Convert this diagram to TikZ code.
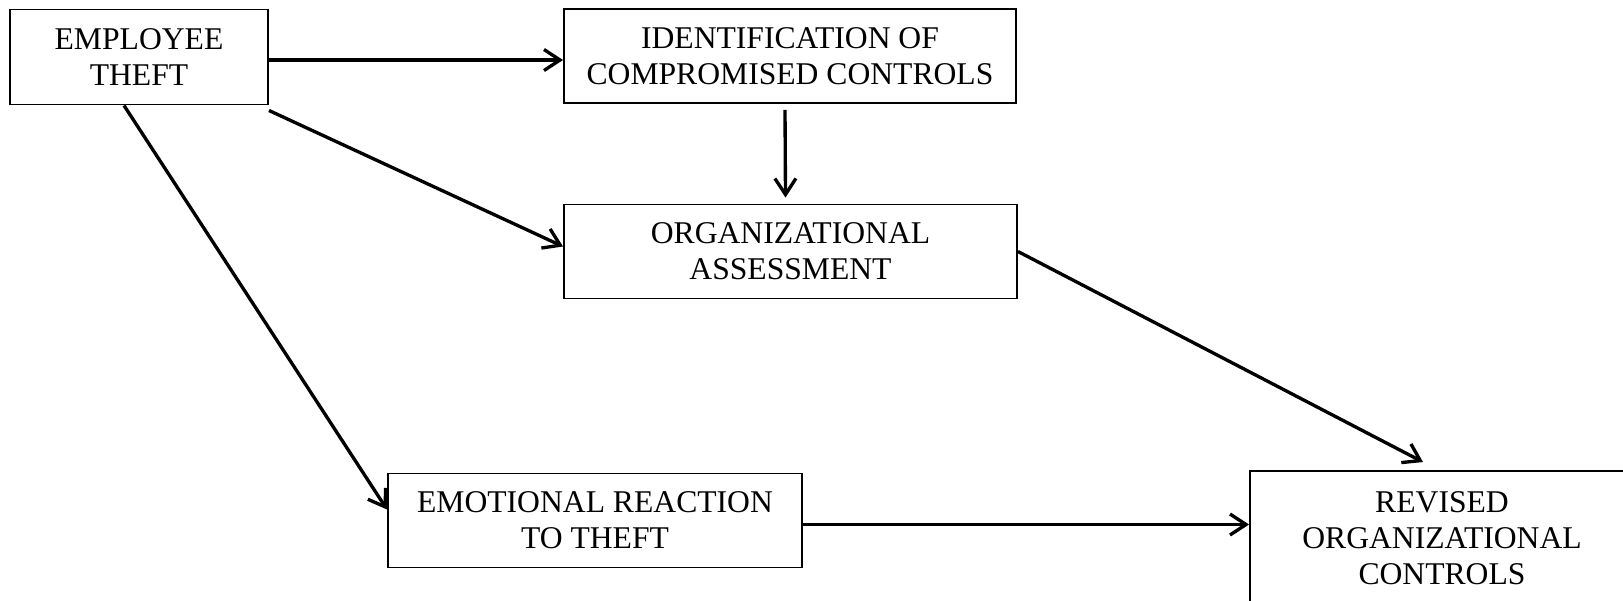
\documentclass[tikz,border=0pt]{standalone}
\usepackage{fontspec}
\setmainfont{Liberation Serif}
\usetikzlibrary{arrows.meta}
\begin{document}
\begin{tikzpicture}[
  box/.style={draw,line width=0.55pt,align=center,inner sep=0pt,
    font=\fontsize{9}{10.25}\selectfont},
  conn/.style={line width=0.95pt,-{Straight Barb[length=0.16cm,width=0.21cm,line width=0.95pt]}}
]
\useasboundingbox (0,0) rectangle (16.23,-6);
% boxes
\node[box,minimum width=2.58cm,minimum height=0.95cm] (theft) at (1.39,-0.57) {EMPLOYEE\\THEFT};
\node[box,minimum width=4.52cm,minimum height=0.94cm] (ident) at (7.90,-0.56) {IDENTIFICATION OF\\COMPROMISED CONTROLS};
\node[box,minimum width=4.53cm,minimum height=0.94cm] (assess) at (7.905,-2.515) {ORGANIZATIONAL\\ASSESSMENT};
\node[box,minimum width=4.14cm,minimum height=0.94cm] (emot) at (5.95,-5.205) {EMOTIONAL REACTION\\TO THEFT};
\node[box,minimum width=3.84cm,minimum height=1.34cm] (revised) at (14.42,-5.38) {REVISED\\ORGANIZATIONAL\\CONTROLS};
% arrows
\draw[conn] ([yshift=-0.03cm]theft.east) -- ([yshift=-0.03cm]theft.east -| ident.west);
\draw[conn] ([yshift=-0.05cm]theft.south east) -- ([yshift=0.05cm]assess.west);
\draw[conn] ([xshift=-0.15cm]theft.south) -- ([yshift=0.11cm]emot.west);
\draw[conn] ([xshift=-0.05cm,yshift=-0.06cm]ident.south) -- ([xshift=-0.05cm,yshift=0.06cm]assess.north);
\draw[conn] (assess.east) -- ([xshift=-0.19cm,yshift=0.08cm]revised.north);
\draw[conn] ([yshift=-0.04cm]emot.east) -- ([yshift=-0.04cm]emot.east -| revised.west);
\end{tikzpicture}
\end{document}
